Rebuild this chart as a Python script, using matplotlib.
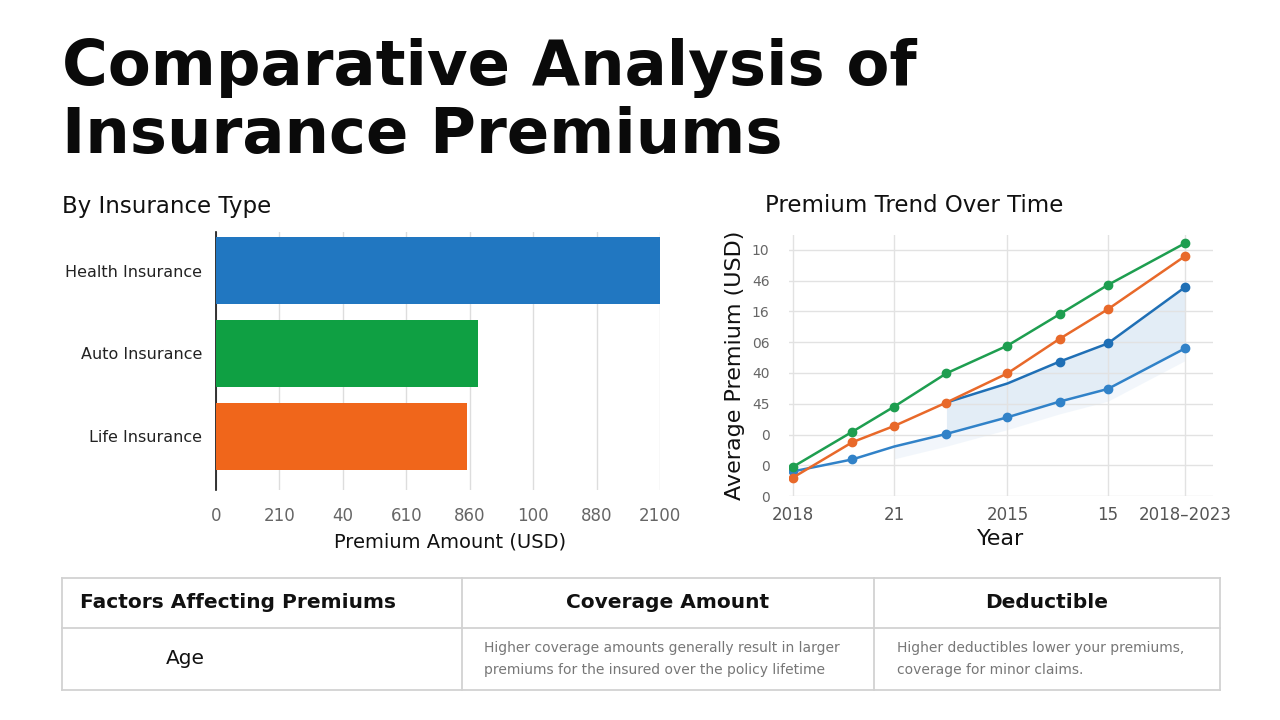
import matplotlib
matplotlib.use("Agg")
from matplotlib import pyplot as plt
import numpy as np

# bar chart data
bar_types = ["Health Insurance", "Auto Insurance", "Life Insurance"]
bar_values = [140, 82.5, 79]
bar_colors = ["#2177c1", "#0fa043", "#f0661b"]
bar_ticks = [0, 20, 40, 60, 80, 100, 120, 140]
bar_tick_labels = ["0", "210", "40", "610", "860", "100", "880", "2100"]

# trend chart data
trend_x = [0, 1.06, 1.81, 2.74, 3.83, 4.76, 5.62, 7.0]
trend_green = [0.95, 2.09, 2.91, 3.99, 4.89, 5.91, 6.86, 8.22]
trend_orange = [0.6, 1.75, 2.28, 3.04, 3.99, 5.11, 6.07, 7.80]
trend_blue_upper = [3.04, 3.66, 4.37, 4.96, 6.79]
trend_blue_lower = [0.8, 1.19, 1.61, 2.02, 2.56, 3.07, 3.48, 4.80]
trend_xticks = [0, 1.81, 3.83, 5.62, 7.0]
trend_xlabels = ["2018", "21", "2015", "15", "2018\u20132023"]
trend_yticks = [0, 1, 2, 3, 4, 5, 6, 7, 8]
trend_ylabels = ["0", "0", "0", "45", "40", "06", "16", "46", "10"]

# table contents
table_header = ["Factors Affecting Premiums", "Coverage Amount", "Deductible"]
table_row = ["Age",
             "Higher coverage amounts generally result in larger\npremiums for the insured over the policy lifetime",
             "Higher deductibles lower your premiums,\ncoverage for minor claims."]

W, H = 1280, 720
fig = plt.figure(figsize=(12.8, 7.2), dpi=100)
fig.patch.set_facecolor("white")


def fx(px):
    return px / W


def fy(py):
    return 1 - py / H


fig.text(fx(62), fy(85), "Comparative Analysis of", fontsize=45, fontweight="bold",
         va="baseline", ha="left", color="#0a0a0a")
fig.text(fx(62), fy(153), "Insurance Premiums", fontsize=45, fontweight="bold",
         va="baseline", ha="left", color="#0a0a0a")

fig.text(fx(62), fy(206), "By Insurance Type", fontsize=16.5, va="center", ha="left", color="#111111")
fig.text(fx(765), fy(206), "Premium Trend Over Time", fontsize=16.5, va="center", ha="left",
         color="#111111")

# --- bar chart ---
ax1 = fig.add_axes([fx(216), fy(490), fx(660) - fx(216), (490 - 232) / H])
ypos = np.arange(len(bar_types))
ax1.barh(ypos, bar_values, height=0.8, color=bar_colors, zorder=3)
ax1.set_ylim(2.645, -0.464)
ax1.set_xlim(0, 140)
ax1.set_yticks(ypos)
ax1.set_yticklabels(bar_types, fontsize=11.5, color="#222222")
ax1.set_xticks(bar_ticks)
ax1.set_xticklabels(bar_tick_labels, fontsize=12, color="#666666")
ax1.tick_params(axis="both", length=0, pad=10)
ax1.tick_params(axis="x", pad=12)
ax1.grid(axis="x", color="#dddddd", linewidth=1, zorder=0)
for s in ["top", "right", "bottom"]:
    ax1.spines[s].set_visible(False)
ax1.spines["left"].set_color("#111111")
ax1.spines["left"].set_linewidth(1.2)
ax1.set_xlabel("Premium Amount (USD)", fontsize=14, color="#111111")
ax1.xaxis.set_label_coords(0.527, -0.165)

# --- trend chart ---
px_unit = (1185 - 793) / 7.0
py_unit = (496 - 250) / 8.0
x_left = -(793 - 789) / px_unit
x_right = (1213 - 793) / px_unit
y_top = (496 - 235) / py_unit
ax2 = fig.add_axes([fx(789), fy(496), (1213 - 789) / W, (496 - 235) / H])
ax2.set_xlim(x_left, x_right)
ax2.set_ylim(0, y_top)

tx = np.array(trend_x)
ax2.fill_between(tx[3:], trend_blue_lower[3:], trend_blue_upper, color="#c9dcef", alpha=0.5,
                 linewidth=0, zorder=1)
ax2.fill_between(tx[2:], np.array(trend_blue_lower[2:]) - 0.4, trend_blue_lower[2:], color="#e6eff8",
                 alpha=0.5, linewidth=0, zorder=1)
ax2.plot(tx[3:], trend_blue_upper, color="#1f6fb5", linewidth=1.8, marker="o", markersize=6,
         markevery=[2, 3, 4], zorder=3)
ax2.plot(tx, trend_blue_lower, color="#3182c8", linewidth=1.8, marker="o", markersize=6,
         markevery=[0, 1, 3, 4, 5, 6, 7], zorder=3)
ax2.plot(tx, trend_orange, color="#e8692a", linewidth=1.8, marker="o", markersize=6, zorder=4)
ax2.plot(tx, trend_green, color="#1e9e50", linewidth=1.8, marker="o", markersize=6, zorder=5)

ax2.set_xticks(trend_xticks)
ax2.set_xticklabels(trend_xlabels, fontsize=12, color="#555555")
ax2.set_yticks(trend_yticks)
ax2.set_yticklabels(trend_ylabels, fontsize=10, color="#666666")
ax2.tick_params(axis="both", length=0)
ax2.tick_params(axis="y", pad=14)
ax2.tick_params(axis="x", pad=7)
ax2.grid(True, color="#e2e2e2", linewidth=1, zorder=0)
for s in ax2.spines.values():
    s.set_visible(False)
ax2.set_xlabel("Year", fontsize=16, color="#111111", labelpad=4)
fig.text(fx(735), fy(365), "Average Premium (USD)", rotation=90, fontsize=16,
         va="center", ha="center", color="#111111")

# --- table ---
axt = fig.add_axes([0, 0, 1, 1], zorder=-1)
axt.set_xlim(0, W)
axt.set_ylim(H, 0)
axt.axis("off")
line_color = "#d2d2d2"
col_edges = [62, 462, 874, 1220]
row_edges = [578, 628, 690]
for yv in row_edges:
    axt.plot([col_edges[0], col_edges[-1]], [yv, yv], color=line_color, linewidth=1.3)
for xv in col_edges:
    axt.plot([xv, xv], [row_edges[0], row_edges[-1]], color=line_color, linewidth=1.3)

head_y = (row_edges[0] + row_edges[1]) / 2
body_y = (row_edges[1] + row_edges[2]) / 2
axt.text(80, head_y, table_header[0], fontsize=14.5, fontweight="bold", ha="left", va="center",
         color="#111111")
axt.text(668, head_y, table_header[1], fontsize=14.5, fontweight="bold", ha="center", va="center",
         color="#111111")
axt.text(1047, head_y, table_header[2], fontsize=14.5, fontweight="bold", ha="center", va="center",
         color="#111111")
axt.text(185, body_y, table_row[0], fontsize=14.5, ha="center", va="center", color="#111111")
axt.text(484, body_y, table_row[1], fontsize=10, ha="left", va="center", color="#777777",
         linespacing=1.65)
axt.text(897, body_y, table_row[2], fontsize=10, ha="left", va="center", color="#777777",
         linespacing=1.65)

fig.savefig("out.png", dpi=100, facecolor="white")
